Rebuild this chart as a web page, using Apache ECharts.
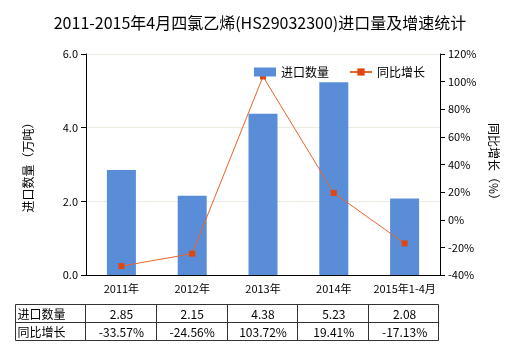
<!DOCTYPE html>
<html>
<head>
<meta charset="utf-8">
<script src="https://cdn.jsdelivr.net/npm/echarts@6/dist/echarts.min.js"></script>
<style>
  html, body { margin: 0; padding: 0; background: #fff; }
  #chart { width: 520px; height: 350px; }
</style>
</head>
<body>
<div id="chart"></div>
<script>
// Import volume (10k tonnes) and year-on-year growth (%)
const categories = ['2011年', '2012年', '2013年', '2014年', '2015年1-4月'];
const importVolume = [2.85, 2.15, 4.38, 5.23, 2.08];
const yoyGrowth = [-33.57, -24.56, 103.72, 19.41, -17.13];
const rowLabels = ['进口数量', '同比增长'];

const FONT = '"Noto Sans CJK SC", "Microsoft YaHei", sans-serif';
const GRID_LEFT = 86, GRID_RIGHT_X = 440, GRID_TOP = 54, GRID_BOTTOM_Y = 275;

const chart = echarts.init(document.getElementById('chart'));

// Data table under the x axis, built from the same arrays as the series
function buildTable() {
  const els = [];
  const colW = (GRID_RIGHT_X - GRID_LEFT) / categories.length;
  const x0 = 15.5;
  const xEnd = GRID_LEFT + colW * categories.length - 1.5;
  const ys = [304.5, 322.5, 340.5];
  const line = (a, b, c, d) => els.push({
    type: 'line', shape: { x1: a, y1: b, x2: c, y2: d },
    style: { stroke: '#333', lineWidth: 1 }, silent: true
  });
  ys.forEach(y => line(x0, y, xEnd, y));
  line(x0, ys[0], x0, ys[2]);
  for (let i = 0; i <= categories.length; i++) {
    const x = Math.round(GRID_LEFT + colW * i - (i === categories.length ? 1.5 : 0)) - 0.5;
    line(x, ys[0], x, ys[2]);
  }
  const rows = [
    importVolume.map(v => v.toFixed(2)),
    yoyGrowth.map(v => v.toFixed(2) + '%')
  ];
  rows.forEach((row, r) => {
    const cy = (ys[r] + ys[r + 1]) / 2 + 0.5;
    els.push({
      type: 'text', x: x0 + 2, y: cy,
      style: { text: rowLabels[r], font: '12px ' + FONT, fill: '#000', textVerticalAlign: 'middle', textAlign: 'left' }
    });
    row.forEach((t, i) => {
      els.push({
        type: 'text', x: GRID_LEFT + colW * (i + 0.5), y: cy,
        style: { text: t, font: '12px ' + FONT, fill: '#000', textAlign: 'center', textVerticalAlign: 'middle' }
      });
    });
  });
  return els;
}

chart.setOption({
  animation: false,
  backgroundColor: '#fff',
  title: {
    text: '2011-2015年4月四氯乙烯(HS29032300)进口量及增速统计',
    left: 'center', top: 10,
    textStyle: { fontFamily: FONT, fontSize: 16, fontWeight: 'normal', color: '#000' }
  },
  legend: {
    top: 61, left: 249,
    itemWidth: 22, itemHeight: 9, itemGap: 20,
    textStyle: { fontFamily: FONT, fontSize: 12, color: '#000' },
    data: [
      { name: '进口数量', icon: 'rect' },
      { name: '同比增长' }
    ]
  },
  grid: {
    left: GRID_LEFT, right: 520 - GRID_RIGHT_X, top: GRID_TOP, bottom: 350 - GRID_BOTTOM_Y,
    containLabel: false
  },
  xAxis: {
    type: 'category',
    data: categories,
    axisLine: { lineStyle: { color: '#000' } },
    axisTick: { alignWithLabel: true, length: 5, lineStyle: { color: '#000' } },
    axisLabel: { interval: 0, fontFamily: FONT, fontSize: 11, color: '#000', margin: 8 }
  },
  yAxis: [
    {
      type: 'value', min: 0, max: 6, interval: 2,
      name: '进口数量（万吨）', nameLocation: 'middle', nameGap: 52, nameRotate: 90,
      nameTextStyle: { fontFamily: FONT, fontSize: 12, color: '#000' },
      axisLine: { show: true, lineStyle: { color: '#000' } },
      axisTick: { show: true, length: 5, lineStyle: { color: '#000' } },
      axisLabel: { fontFamily: FONT, fontSize: 11, color: '#000', formatter: v => v.toFixed(1) },
      splitLine: { show: true, lineStyle: { color: '#ebebdf' } }
    },
    {
      type: 'value', min: -40, max: 120, interval: 20,
      name: '同比增长（%）', nameLocation: 'middle', nameGap: 45, nameRotate: -90,
      nameTextStyle: { fontFamily: FONT, fontSize: 12, color: '#000' },
      axisLine: { show: true, lineStyle: { color: '#000' } },
      axisTick: { show: true, length: 5, lineStyle: { color: '#000' } },
      axisLabel: { fontFamily: FONT, fontSize: 11, color: '#000', formatter: '{value}%' },
      splitLine: { show: false }
    }
  ],
  series: [
    {
      name: '进口数量', type: 'bar', yAxisIndex: 0,
      data: importVolume, barWidth: 29,
      itemStyle: { color: '#5a8dd7' }
    },
    {
      name: '同比增长', type: 'line', yAxisIndex: 1,
      data: yoyGrowth,
      symbol: 'rect', symbolSize: 6,
      lineStyle: { color: '#e8642a', width: 1 },
      itemStyle: { color: '#e0460f' }
    }
  ],
  graphic: buildTable()
});
</script>
</body>
</html>
